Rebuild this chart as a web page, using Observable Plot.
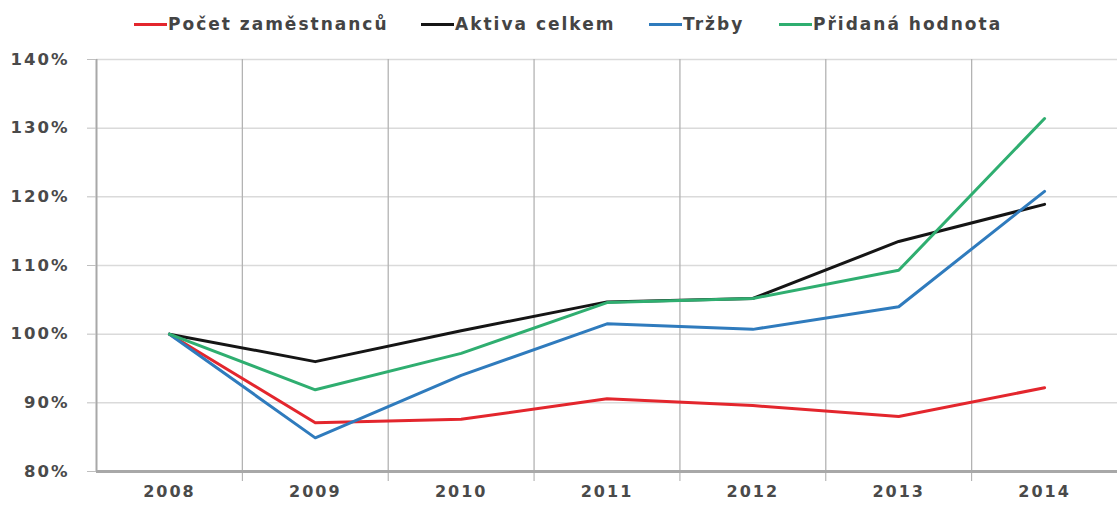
<!DOCTYPE html>
<html>
<head>
<meta charset="utf-8">
<script src="https://cdn.jsdelivr.net/npm/d3@7"></script>
<script src="https://cdn.jsdelivr.net/npm/@observablehq/plot@0.6"></script>
<style>
  html, body { margin: 0; padding: 0; background: #fff; }
  body { width: 1117px; height: 508px; overflow: hidden; font-family: "DejaVu Sans", sans-serif; }
  #legend { height: 45px; position: relative; }
  .item { position: absolute; top: 14px; display: flex; align-items: center; font-size: 17px; font-weight: bold; color: #444; letter-spacing: 2px; }
  .sw { width: 33px; height: 3px; margin-right: 1px; }
  #chart svg { display: block; }
</style>
</head>
<body>
<div id="legend"></div>
<div id="chart"></div>
<script>
const years = [2008, 2009, 2010, 2011, 2012, 2013, 2014];
const seriesNames = ["Počet zaměstnanců", "Aktiva celkem", "Tržby", "Přidaná hodnota"];
const zamestnanci = [100, 87.1, 87.6, 90.6, 89.6, 88.0, 92.2];
const aktiva      = [100, 96.0, 100.5, 104.7, 105.2, 113.5, 118.9];
const trzby       = [100, 84.9, 94.0, 101.5, 100.7, 104.0, 120.8];
const pridana     = [100, 91.9, 97.2, 104.6, 105.2, 109.3, 131.4];
const colors = ["#e3262d", "#151515", "#2f7bbd", "#2fae70"];
const yTicks = [80, 90, 100, 110, 120, 130, 140];

const valuesList = [zamestnanci, aktiva, trzby, pridana];
const legendLeft = [134, 421, 649, 779];

const legend = document.getElementById("legend");
seriesNames.forEach((n, i) => {
  const it = document.createElement("div");
  it.className = "item";
  it.style.left = legendLeft[i] + "px";
  const sw = document.createElement("span");
  sw.className = "sw";
  sw.style.background = colors[i];
  const t = document.createElement("span");
  t.textContent = n;
  it.appendChild(sw); it.appendChild(t);
  legend.appendChild(it);
});

const boundaries = years.slice(0, -1).map(y => y + 0.5);

const data = seriesNames.map((name, i) => years.map((year, j) => ({name, year, value: valuesList[i][j]})));

const chart = Plot.plot({
  width: 1117,
  height: 463,
  marginLeft: 96,
  marginRight: 0,
  marginTop: 14,
  marginBottom: 37,
  style: {fontFamily: "DejaVu Sans, sans-serif", fontSize: "16px", fontWeight: "bold", color: "#4a4a4a", letterSpacing: "2px"},
  x: {domain: [years[0] - 0.5, years[years.length - 1] + 0.5], axis: null},
  y: {domain: [yTicks[0], yTicks[yTicks.length - 1]], axis: null},
  marks: [
    Plot.ruleY(yTicks.slice(1), {stroke: "#dadada", strokeWidth: 1.5}),
    Plot.ruleX(boundaries, {stroke: "#b3b3b3", strokeWidth: 1.3}),
    Plot.ruleX([years[0] - 0.5], {stroke: "#a8a8a8", strokeWidth: 2}),
    Plot.ruleY([yTicks[0]], {stroke: "#a8a8a8", strokeWidth: 3}),
    Plot.axisX(boundaries, {tickSize: 10, tickFormat: () => "", stroke: "#a8a8a8", label: null}),
    Plot.axisX(years, {tickSize: 0, tickPadding: 14, tickFormat: d => String(d), fontSize: 16, label: null}),
    Plot.axisY(yTicks, {tickSize: 9, tickPadding: 18, tickFormat: d => d + "%", stroke: "#bfbfbf", fontSize: 16.5, label: null}),
    ...data.map((d, i) => Plot.line(d, {x: "year", y: "value", stroke: colors[i], strokeWidth: 3}))
  ]
});
document.getElementById("chart").appendChild(chart);
</script>
</body>
</html>
